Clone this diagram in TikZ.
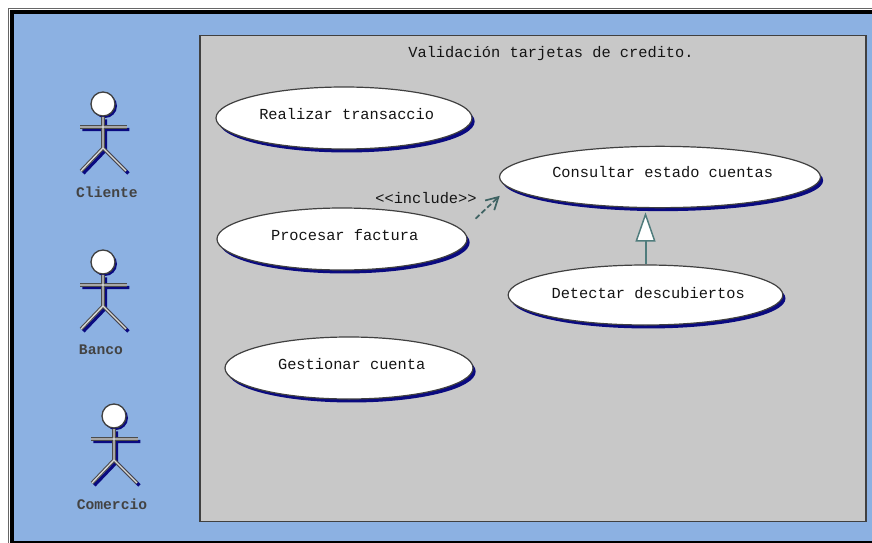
\documentclass[tikz,border=0pt]{standalone}
\usepackage{fontspec}
\setmainfont{Liberation Mono}
\usetikzlibrary{arrows.meta,shapes.geometric,shadows}
\definecolor{fondo}{HTML}{8CB1E2}
\definecolor{panel}{HTML}{C8C8C8}
\definecolor{sombra}{HTML}{0A0A80}
\definecolor{verdoso}{HTML}{4F7C7C}
\definecolor{tinta}{HTML}{141414}
\tikzset{
	usecase/.style={ellipse,draw=black!75,line width=.9pt,fill=white,inner sep=-4pt,text=tinta,text depth=6pt,
		font=\fontsize{11.5pt}{13pt}\selectfont,execute at begin node=\hspace*{4pt},
		drop shadow={shadow xshift=2pt,shadow yshift=-2.6pt,fill=sombra,opacity=1}},
	actorname/.style={text=tinta!80,font=\bfseries\fontsize{11pt}{13pt}\selectfont},
	includeedge/.style={verdoso!80!black,line width=1.3pt,dash pattern=on 4pt off 2pt,-{Straight Barb[length=9pt,width=10pt]},shorten <=13pt,shorten >=9pt},
	genedge/.style={verdoso,line width=1.5pt,-{Triangle[fill=white,length=22pt,width=15pt,line width=1.1pt]},shorten >=3pt},
	pics/actorfig/.style={code={
		\draw[sombra,line width=2.4pt,xshift=1.8pt,yshift=-1.8pt] (-23,-23) -- (24,-23) (0,-33) -- (0,-2) (0,-2) -- (-22,21) (0,-2) -- (23,21);
		\fill[sombra] (2,-44) circle (12);
		\draw[black!75,line width=1pt,fill=white] (0,-46) circle (12);
		\draw[black!70,line width=2.6pt] (-23,-23) -- (24,-23);
		\draw[black!70,line width=2.6pt] (0,-33) -- (0,-2);
		\draw[black!70,line width=2.6pt] (0,-2) -- (-22,21) (0,-2) -- (23,21);
		\draw[white!85!black,line width=1pt] (-23,-23) -- (24,-23) (0,-33) -- (0,-2) (0,-2) -- (-22,21) (0,-2) -- (23,21);
	}}
}
\begin{document}
\begin{tikzpicture}[x=0.75pt,y=-0.75pt]
	\useasboundingbox (0,0) rectangle (872,543);
	% marco
	\fill[white] (0,0) rectangle (872,543);
	\draw[black!60,line width=.75pt] (8,543) -- (8,8) -- (872,8);
	\fill[black] (10,10) rectangle (872,543);
	\fill[fondo] (14,14) rectangle (872,541);
	\node (sistema) [draw=black!75,fill=panel,line width=.9pt,minimum width=499.5pt,minimum height=365pt,inner sep=0pt] at (533,278.5) {};
	\node (titulo) [font=\fontsize{11.5pt}{13pt}\selectfont,text=tinta] at (551,54) {Validación tarjetas de credito.};
	% actores
	\pic at (103,150) {actorfig};
	\pic at (103,308) {actorfig};
	\pic at (114,462) {actorfig};
	\node (cliente) [actorname] at (107,192) {Cliente};
	\node (banco) [actorname] at (101,350) {Banco};
	\node (comercio) [actorname] at (112,504) {Comercio};
	% casos de uso
	\node (realizar) [usecase,minimum width=192pt,minimum height=46.5pt] at (344,118) {Realizar transaccio};
	\node (procesar) [usecase,minimum width=187.5pt,minimum height=46.5pt] at (342,239) {Procesar factura};
	\node (gestionar) [usecase,minimum width=186pt,minimum height=46.5pt] at (349,368) {Gestionar cuenta};
	\node (consultar) [usecase,text depth=7pt,minimum width=240.75pt,minimum height=46pt] at (660,177) {Consultar estado cuentas};
	\node (detectar) [usecase,text depth=3pt,minimum width=206pt,minimum height=45pt] at (645.5,295) {Detectar descubiertos};
	% relaciones
	\node (incluye) [font=\fontsize{11.5pt}{13pt}\selectfont,text=tinta] at (426,198) {<{}<include>{}>};
	\draw[includeedge] (procesar.4) -- (consultar.184);
	\draw[genedge] (detectar.north) -- (detectar.north |- consultar.south);
\end{tikzpicture}
\end{document}
